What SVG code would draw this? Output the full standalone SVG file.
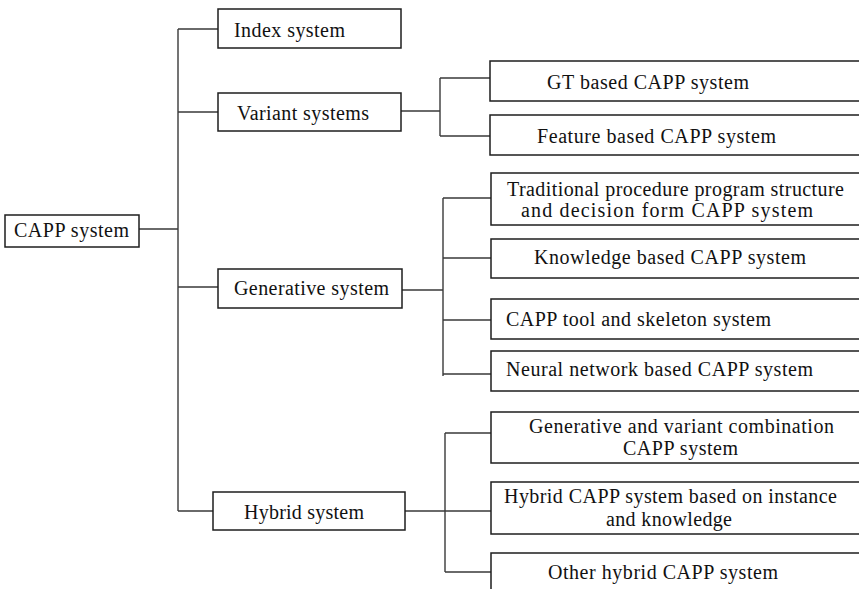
<svg xmlns="http://www.w3.org/2000/svg" width="859" height="589" viewBox="0 0 859 589">
  <style>
    .box { fill: #ffffff; stroke: #1e1e1e; stroke-width: 1.5; }
    .link { fill: none; stroke: #3a3a3a; stroke-width: 1.4; }
    .label { font-family: "Liberation Serif", "Times New Roman", "DejaVu Serif", serif; font-size: 20px; fill: #111111; }
  </style>
  <rect width="859" height="589" fill="#ffffff"/>

  <!-- connectors -->
  <g id="connectors">
    <!-- root to first level -->
    <path class="link" d="M139 229 H178 M178 29 V511 M178 29 H218 M178 112 H218 M178 287 H218 M178 511 H213"/>
    <!-- variant branch -->
    <path class="link" d="M401 111 H440 M440 78 V136 M440 78 H490 M440 136 H490"/>
    <!-- generative branch -->
    <path class="link" d="M402 290 H443 M443 198 V376 M443 198 H491 M443 258 H491 M443 320 H491 M443 374 H491"/>
    <!-- hybrid branch -->
    <path class="link" d="M405 511 H491 M445 433 V572 M445 433 H491 M445 572 H491"/>
  </g>

  <!-- root -->
  <g id="capp-system">
    <rect class="box" x="5" y="215" width="134" height="32"/>
    <text class="label" x="14" y="237" textLength="115" lengthAdjust="spacing">CAPP system</text>
  </g>

  <!-- first level -->
  <g id="index-system">
    <rect class="box" x="218" y="9" width="183" height="39"/>
    <text class="label" x="234" y="37" textLength="111" lengthAdjust="spacing">Index system</text>
  </g>
  <g id="variant-systems">
    <rect class="box" x="218" y="93" width="183" height="38"/>
    <text class="label" x="237" y="120" textLength="132" lengthAdjust="spacing">Variant systems</text>
  </g>
  <g id="generative-system">
    <rect class="box" x="218" y="269" width="184" height="39"/>
    <text class="label" x="234" y="295" textLength="155" lengthAdjust="spacing">Generative system</text>
  </g>
  <g id="hybrid-system">
    <rect class="box" x="213" y="492" width="192" height="38"/>
    <text class="label" x="244" y="519" textLength="120" lengthAdjust="spacing">Hybrid system</text>
  </g>

  <!-- variant children -->
  <g id="gt-based">
    <rect class="box" x="490" y="61" width="400" height="40"/>
    <text class="label" x="547" y="89" textLength="202" lengthAdjust="spacing">GT based CAPP system</text>
  </g>
  <g id="feature-based">
    <rect class="box" x="490" y="115" width="400" height="40"/>
    <text class="label" x="537" y="143" textLength="239" lengthAdjust="spacing">Feature based CAPP system</text>
  </g>

  <!-- generative children -->
  <g id="traditional-procedure">
    <rect class="box" x="491" y="173" width="400" height="52"/>
    <text class="label" x="507" y="196" textLength="337" lengthAdjust="spacing">Traditional procedure program structure</text>
    <text class="label" x="521" y="217" textLength="292" lengthAdjust="spacing">and decision form CAPP system</text>
  </g>
  <g id="knowledge-based">
    <rect class="box" x="491" y="239" width="400" height="39"/>
    <text class="label" x="534" y="264" textLength="272" lengthAdjust="spacing">Knowledge based CAPP system</text>
  </g>
  <g id="tool-skeleton">
    <rect class="box" x="491" y="299" width="400" height="40"/>
    <text class="label" x="506" y="326" textLength="265" lengthAdjust="spacing">CAPP tool and skeleton system</text>
  </g>
  <g id="neural-network">
    <rect class="box" x="491" y="351" width="400" height="40"/>
    <text class="label" x="506" y="376" textLength="307" lengthAdjust="spacing">Neural network based CAPP system</text>
  </g>

  <!-- hybrid children -->
  <g id="generative-variant">
    <rect class="box" x="491" y="412" width="400" height="51"/>
    <text class="label" x="529" y="433" textLength="305" lengthAdjust="spacing">Generative and variant combination</text>
    <text class="label" x="623" y="455" textLength="115" lengthAdjust="spacing">CAPP system</text>
  </g>
  <g id="instance-knowledge">
    <rect class="box" x="491" y="482" width="400" height="52"/>
    <text class="label" x="504" y="503" textLength="333" lengthAdjust="spacing">Hybrid CAPP system based on instance</text>
    <text class="label" x="606" y="526" textLength="126" lengthAdjust="spacing">and knowledge</text>
  </g>
  <g id="other-hybrid">
    <rect class="box" x="491" y="553" width="400" height="60"/>
    <text class="label" x="548" y="579" textLength="230" lengthAdjust="spacing">Other hybrid CAPP system</text>
  </g>
</svg>
